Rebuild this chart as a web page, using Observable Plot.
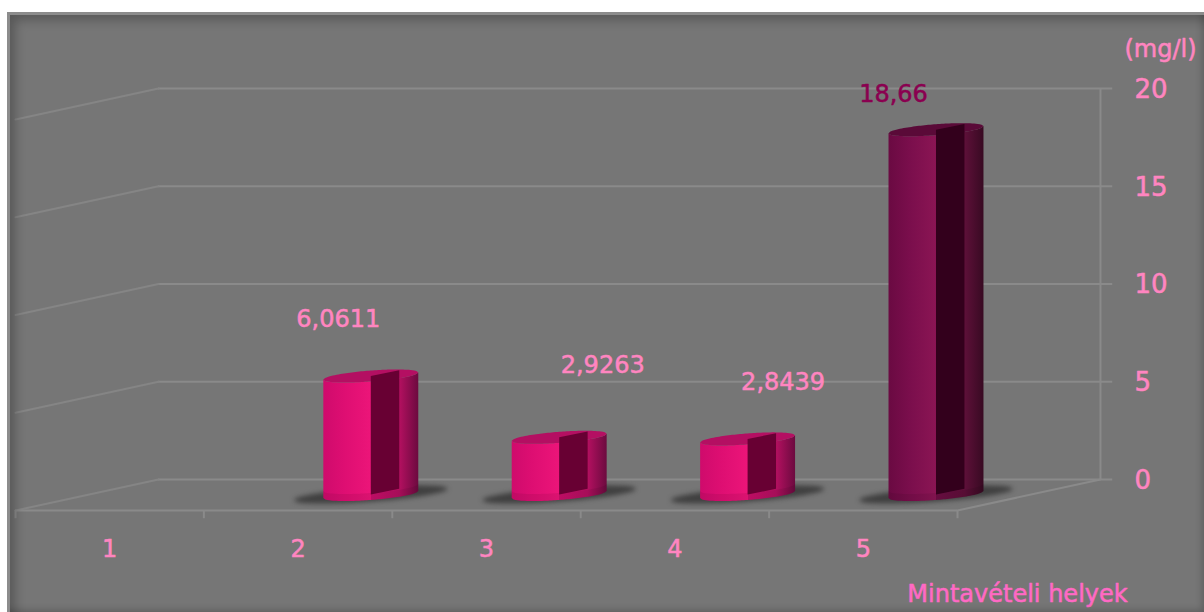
<!DOCTYPE html>
<html lang="hu">
<head>
<meta charset="utf-8">
<script src="https://cdn.jsdelivr.net/npm/d3@7"></script>
<script src="https://cdn.jsdelivr.net/npm/@observablehq/plot@0.6"></script>
<style>
  html, body { margin: 0; background: #fff; }
  #chart { position: relative; width: 1204px; height: 612px; overflow: hidden; }
  #panel { position: absolute; left: 7px; top: 12px; right: 0; bottom: 0; background: #767676; z-index: 0; }
  #bevel {
    position: absolute; left: 7px; top: 12px; right: 0; bottom: 0; box-sizing: border-box; z-index: 2;
    border-left: 3px solid #8c8c8c; border-top: 3px solid #8c8c8c;
    box-shadow: inset 9px 9px 11px -4px rgba(0,0,0,.26), inset -5px -5px 7px -3px rgba(0,0,0,.2);
    pointer-events: none;
  }
  #chart > svg { position: absolute; left: 0; top: 0; z-index: 1; }
</style>
</head>
<body>
<div id="chart"><div id="panel"></div></div>
<script>
// Measured concentration per sampling site
const sites = [1, 2, 3, 4, 5];
const values = [null, 6.0611, 2.9263, 2.8439, 18.66];
const valueLabels = ["", "6,0611", "2,9263", "2,8439", "18,66"];
const yTicks = [0, 5, 10, 15, 20];

// Oblique projection: depth of the floor, in x (sites) and y (mg/l) units
const depthX = 0.759, depthY = 1.586;
const PXX = 188.4, PXY = 19.55;

// Cylinder section, in scale units
const radiusX = 0.252, radiusY = 0.28, tilt = 0.725, cutWidth = 0.151;

// Label nudges beside each column, in pixels
const labelNudge = {2: [-33, -57], 3: [43, -72], 4: [35, -57], 5: [-43, -36]};

const ts = d3.range(0, 1.0001, 0.02).map(u => -1 + 2 * u);

// Edge of an ellipse centred on height cy: sign +1 is the back edge, -1 the front edge
const edge = (cy, u, sign, rx = radiusX, ry = radiusY) =>
  cy + tilt * u * rx + sign * ry * Math.sqrt(Math.max(0, 1 - u * u));

const bars = sites.map((s, i) => ({site: s, value: values[i], label: valueLabels[i]})).filter(d => d.value != null);

const palette = v => v > 10
  ? {body: "url(#bodyDark)", top: "#5a0a38", cut: "#33001c", text: "#8a0050"}
  : {body: "url(#bodyPink)", top: "#b40f62", cut: "#680033", text: "#ff85c0"};

const centerX = d => d.site + depthX / 2 + 0.009;
const baseY = depthY / 2;

const shapes = {shadow: [], body: [], band: [], top: [], cut: []};
for (const d of bars) {
  const cx = centerX(d), cap = baseY + d.value;
  for (const u of ts) {
    const px = cx + u * radiusX;
    shapes.shadow.push({k: d.site, x: cx + u * 0.41, y1: edge(baseY, u, -1, 0.41, 0.36), y2: edge(baseY, u, 1, 0.41, 0.36)});
    shapes.body.push({k: d.site, x: px, y1: edge(baseY, u, -1), y2: edge(cap, u, -1)});
    shapes.band.push({k: d.site, x: px, y1: edge(baseY, u, -1), y2: edge(baseY + 0.36, u, -1)});
    shapes.top.push({k: d.site, x: px, y1: edge(cap, u, -1), y2: edge(cap, u, 1)});
  }
  for (const f of [0, 1]) {
    shapes.cut.push({k: d.site, x: cx + f * cutWidth, y1: baseY + f * 0.29, y2: cap + f * 0.29});
  }
}

const area = (rows, opts) => Plot.areaY(rows, {x: "x", y1: "y1", y2: "y2", z: "k", curve: "linear", ...opts});
const ofSite = (rows, d) => rows.filter(r => r.k === d.site);
const inked = color => ({fill: color, stroke: color, strokeWidth: 0.55});

const plot = Plot.plot({
  width: 1204,
  height: 612,
  margin: 0,
  style: {background: "transparent", fontFamily: "'DejaVu Sans'"},
  x: {domain: [0.5 - 15 / PXX, 0.5 + (1204 - 15) / PXX], range: [0, 1204], axis: null},
  y: {domain: [-102 / PXY, 510 / PXY], range: [612, 0], axis: null},
  marks: [
    // Back wall gridlines, side wall and the right-hand value axis
    Plot.ruleY(yTicks, {y: d => d + depthY, x1: 0.5 + depthX, x2: 5.5 + depthX + 0.065, stroke: "#8a8a8a", strokeWidth: 2}),
    yTicks.map(t => Plot.line([[0.5, t], [0.5 + depthX, t + depthY]], {stroke: "#858585", strokeWidth: 2})),
    Plot.ruleX([5.5 + depthX], {y1: depthY, y2: 20 + depthY, stroke: "#8a8a8a", strokeWidth: 2}),
    // Floor edges and site ticks
    Plot.ruleY([0], {x1: 0.5, x2: 5.5, stroke: "#8a8a8a", strokeWidth: 2}),
    Plot.line([[5.5, 0], [5.5 + depthX, depthY]], {stroke: "#8a8a8a", strokeWidth: 2}),
    Plot.ruleX([0.5, ...sites.map(s => s + 0.5)], {y1: 0, y2: -0.42, stroke: "#8a8a8a", strokeWidth: 2}),

    // Columns
    area(shapes.shadow, {fill: "#2e2e2e", fillOpacity: 0.75, imageFilter: "blur(2.5px)"}),
    bars.map(d => area(ofSite(shapes.body, d), {fill: palette(d.value).body})),
    area(shapes.band, {fill: "#000", fillOpacity: 0.07}),
    bars.map(d => area(ofSite(shapes.top, d), {fill: palette(d.value).top})),
    bars.map(d => area(ofSite(shapes.cut, d), {fill: palette(d.value).cut})),

    // Value labels
    bars.map(d => Plot.text([d], {
      x: centerX, y: r => baseY + r.value, text: "label",
      dx: labelNudge[d.site][0], dy: labelNudge[d.site][1],
      ...inked(palette(d.value).text), fontSize: 24, textAnchor: "middle", lineAnchor: "middle"
    })),

    // Axis text
    Plot.text(sites, {x: d => d, y: -1.96, text: d => String(d), ...inked("#ff85c0"), fontSize: 24, lineAnchor: "middle"}),
    Plot.text(yTicks, {x: 5.5 + depthX, dx: 34, dy: 1, y: d => d + depthY, text: d => String(d), ...inked("#ff85c0"), fontSize: 26, textAnchor: "start", lineAnchor: "middle"}),
    Plot.text(["(mg/l)"], {x: 5.5 + depthX, dx: 60, y: 20 + depthY, dy: -39, text: d => d, ...inked("#ff85c0"), fontSize: 24, lineAnchor: "middle"}),
    Plot.text(["Mintavételi helyek"], {x: 5.5, dx: 60, y: -4.27, text: d => d, ...inked("#ff69c4"), fontSize: 24, lineAnchor: "middle"})
  ]
});

// Shading across the curved surface of the columns
const defs = document.createElementNS("http://www.w3.org/2000/svg", "defs");
plot.appendChild(defs);
const gradient = (id, stops) => {
  const g = d3.select(defs).append("linearGradient").attr("id", id).attr("x1", 0).attr("x2", 1).attr("y1", 0).attr("y2", 0);
  for (const [o, c] of stops) g.append("stop").attr("offset", o).attr("stop-color", c);
};
gradient("bodyPink", [[0, "#cf0b6c"], [0.22, "#de0e72"], [0.5, "#ec1579"], [0.5, "#cc0f6c"], [0.8, "#b31060"], [1, "#6c0a3f"]]);
gradient("bodyDark", [[0, "#6a0a42"], [0.22, "#7a0e4c"], [0.5, "#8b1554"], [0.5, "#6f0d45"], [0.8, "#5e1039"], [1, "#380a22"]]);

const chart = document.getElementById("chart");
chart.appendChild(plot);
const bevel = document.createElement("div");
bevel.id = "bevel";
chart.appendChild(bevel);
</script>
</body>
</html>
